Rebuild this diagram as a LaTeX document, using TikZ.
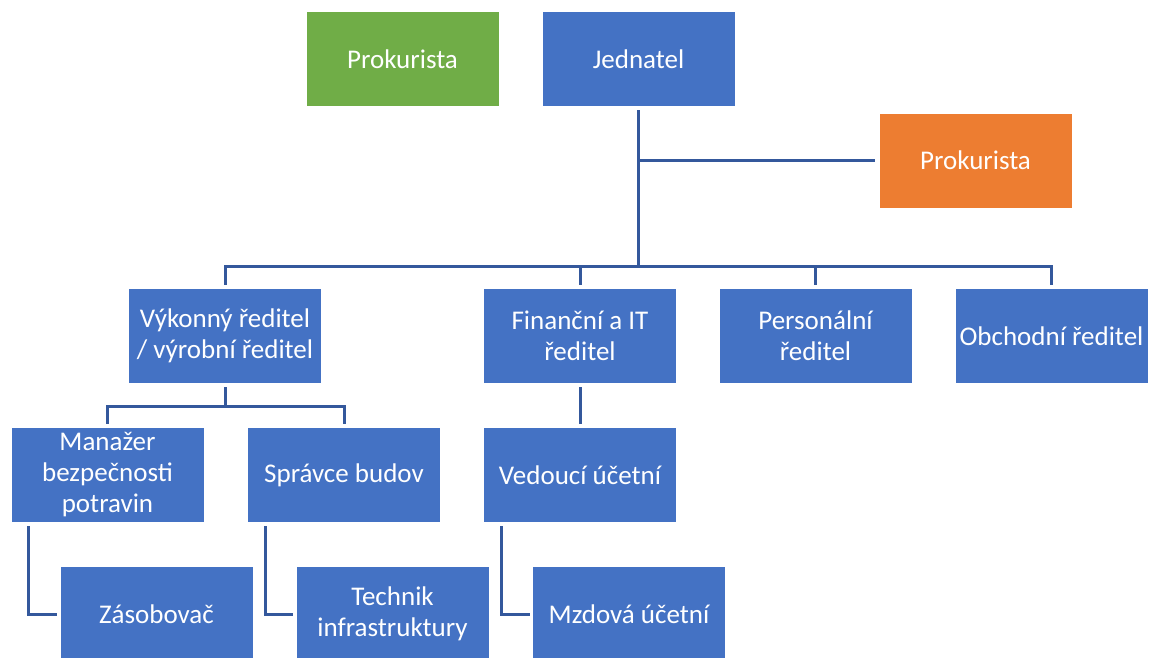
\documentclass[tikz,border=0pt]{standalone}
\usepackage{fontspec}
\setmainfont{Carlito}
\definecolor{boxblue}{RGB}{68,114,196}
\definecolor{boxgreen}{RGB}{112,173,71}
\definecolor{boxorange}{RGB}{237,125,49}
\definecolor{linkblue}{RGB}{52,88,156}
\begin{document}
\begin{tikzpicture}[x=1pt,y=-1pt,
  unit/.style={rectangle, fill=boxblue, text=white, minimum width=192pt, minimum height=94pt,
    inner sep=0pt, align=center, font=\fontsize{27}{31}\selectfont},
  conn/.style={draw=linkblue, line width=3pt, shorten <=4pt, shorten >=4pt},
  busline/.style={draw=linkblue, line width=3pt}]
\useasboundingbox (0,0) rectangle (1149,657);
\clip (0,0) rectangle (1149,657);

% top level
\node[unit, fill=boxgreen] (prokA) at (402.5,59) {Prokurista};
\node[unit] (jed) at (638.5,59) {Jednatel};
\node[unit, fill=boxorange] (prokB) at (975.5,160.5) {Prokurista};

% directors
\node[unit] (vyk) at (225,336) {Výkonný ředitel\\/ výrobní ředitel};
\node[unit] (fin) at (580,336) {Finanční a IT\\ředitel};
\node[unit] (pers) at (815.5,336) {Personální\\ředitel};
\node[unit] (obch) at (1051.5,336) {Obchodní ředitel};

% third level
\node[unit] (man) at (107.5,475) {Manažer\\bezpečnosti\\potravin};
\node[unit] (spr) at (344,475) {Správce budov};
\node[unit] (ved) at (580,475) {Vedoucí účetní};

% fourth level
\node[unit] (zas) at (156.5,614) {Zásobovač};
\node[unit] (tech) at (392.5,614) {Technik\\infrastruktury};
\node[unit] (mzd) at (629,614) {Mzdová účetní};

% bus coordinates
\coordinate (busA) at (0,266.5);
\coordinate (busB) at (0,406);

% Jednatel to directors
\draw[conn] (jed.south) -- (jed |- busA) -| (vyk.north);
\draw[conn] (jed.south) -- (jed |- busA) -| (fin.north);
\draw[conn] (jed.south) -- (jed |- busA) -| (pers.north);
\draw[conn] (jed.south) -- (jed |- busA) -| (obch.north);
\draw[busline] (vyk |- busA) -- (obch |- busA);

% assistant line to Prokurista
\draw[conn, shorten <=0pt] (jed |- prokB) -- (prokB.west);

% Výkonný ředitel to its reports
\draw[conn] (vyk.south) -- (vyk |- busB) -| (man.north);
\draw[conn] (vyk.south) -- (vyk |- busB) -| (spr.north);
\draw[busline] (man |- busB) -- (spr |- busB);

% Finanční a IT ředitel to Vedoucí účetní
\draw[conn] (fin.south) -- (ved.north);

% elbow links to fourth level
\draw[conn, shorten >=3pt] ([xshift=17pt]man.south west) |- (zas.west);
\draw[conn, shorten >=3pt] ([xshift=18pt]spr.south west) |- (tech.west);
\draw[conn, shorten >=3pt] ([xshift=18pt]ved.south west) |- (mzd.west);
\end{tikzpicture}
\end{document}
